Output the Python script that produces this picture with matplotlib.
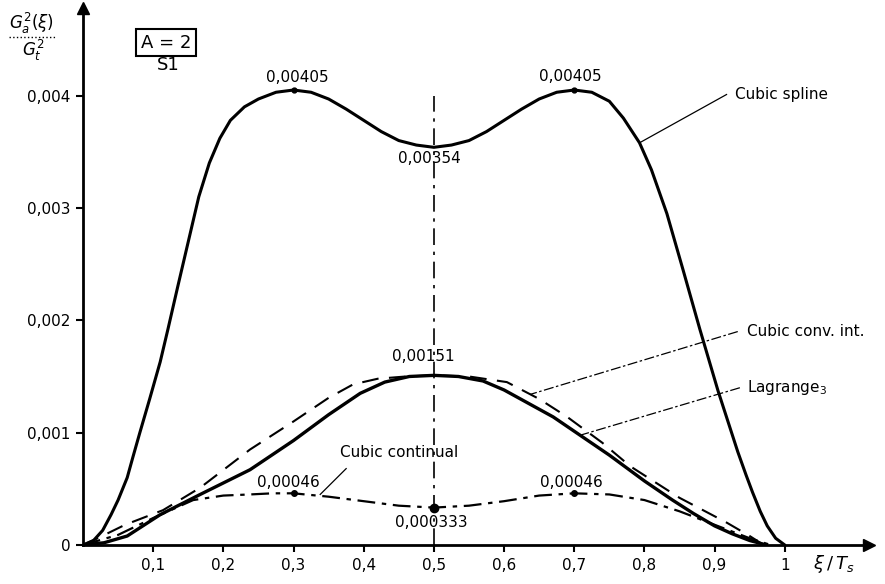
import matplotlib
matplotlib.use("Agg")
import matplotlib.pyplot as plt
from matplotlib.lines import Line2D

plt.rcParams['font.family'] = ['DejaVu Sans']
plt.rcParams['mathtext.fontset'] = 'dejavusans'

# ---- data -------------------------------------------------------------
spline_x = [0, 0.015, 0.028, 0.04, 0.05, 0.063, 0.071, 0.081, 0.095, 0.11,
            0.121, 0.135, 0.15, 0.165, 0.18, 0.195, 0.21, 0.23, 0.25, 0.275,
            0.30, 0.325, 0.35, 0.375, 0.40, 0.425, 0.45, 0.475, 0.50, 0.525,
            0.55, 0.575, 0.60, 0.625, 0.65, 0.675, 0.70, 0.725, 0.75, 0.77,
            0.793, 0.81, 0.832, 0.855, 0.879, 0.905, 0.933, 0.945, 0.954,
            0.965, 0.975, 0.987, 1.0]
spline_y = [0, 0.00004, 0.00013, 0.00027, 0.0004, 0.0006, 0.00078, 0.001,
            0.0013, 0.00163, 0.00192, 0.0023, 0.0027, 0.0031, 0.0034, 0.00362,
            0.00378, 0.0039, 0.00397, 0.00403, 0.00405, 0.00403, 0.00397,
            0.00388, 0.00378, 0.00368, 0.0036, 0.00356, 0.00354, 0.00356,
            0.0036, 0.00368, 0.00378, 0.00388, 0.00397, 0.00403, 0.00405,
            0.00403, 0.00395, 0.0038, 0.00358, 0.00334, 0.00295, 0.00245,
            0.00192, 0.00137, 0.00083, 0.00062, 0.00047, 0.0003, 0.00017,
            0.00006, 0]

lagr_x = [0, 0.03, 0.063, 0.11, 0.167, 0.238, 0.30, 0.35, 0.395, 0.43,
          0.465, 0.50, 0.535, 0.57, 0.60, 0.635, 0.67, 0.71, 0.75, 0.80,
          0.84, 0.87, 0.90, 0.925, 0.95, 0.974]
lagr_y = [0, 0.00002, 0.00008, 0.00027, 0.00045, 0.00067, 0.00093, 0.00116,
          0.00135, 0.00145, 0.0015, 0.00151, 0.0015, 0.00146, 0.00138,
          0.00126, 0.00114, 0.00097, 0.0008, 0.00057, 0.0004, 0.00028,
          0.00017, 0.0001, 0.00004, 0]

conv_x = [0, 0.024, 0.06, 0.114, 0.167, 0.238, 0.30, 0.35, 0.385, 0.42,
          0.46, 0.50, 0.55, 0.604, 0.65, 0.69, 0.74, 0.78, 0.85, 0.917,
          0.95, 0.97]
conv_y = [0, 0.00007, 0.00018, 0.00031, 0.00051, 0.00085, 0.0011, 0.00131,
          0.00143, 0.00148, 0.0015, 0.00151, 0.0015, 0.00145, 0.0013,
          0.00114, 0.00091, 0.0007, 0.00042, 0.0002, 0.00008, 0]

cont_x = [0, 0.05, 0.1, 0.157, 0.2, 0.238, 0.27, 0.3, 0.35, 0.4, 0.45,
          0.5, 0.55, 0.6, 0.65, 0.7, 0.75, 0.8, 0.85, 0.9, 0.95, 0.98]
cont_y = [0, 0.00009, 0.00024, 0.0004, 0.00044, 0.00045, 0.00046, 0.00046,
          0.00043, 0.00039, 0.00035, 0.000333, 0.00035, 0.00039, 0.00044,
          0.00046, 0.00045, 0.0004, 0.0003, 0.00018, 0.00006, 0]

x_ticks = [0.1, 0.2, 0.3, 0.4, 0.5, 0.6, 0.7, 0.8, 0.9, 1.0]
x_labels = ["0,1", "0,2", "0,3", "0,4", "0,5", "0,6", "0,7", "0,8", "0,9", "1"]
y_ticks = [0, 0.001, 0.002, 0.003, 0.004]
y_labels = ["0", "0,001", "0,002", "0,003", "0,004"]

# ---- figure -----------------------------------------------------------
fig = plt.figure(figsize=(8.85, 5.84), dpi=100)
ax = fig.add_axes([83 / 885, 39 / 584, 786 / 885, 537 / 584])
ax.set_xlim(0, 1.12)
ax.set_ylim(0, 0.00478)

for s in ("top", "right"):
    ax.spines[s].set_visible(False)
for s in ("left", "bottom"):
    ax.spines[s].set_linewidth(2.0)
ax.plot(1, 0, marker=">", ms=8, color="k", transform=ax.transAxes, clip_on=False)
ax.plot(0, 1, marker="^", ms=8, color="k", transform=ax.transAxes, clip_on=False)

ax.set_xticks(x_ticks)
ax.set_xticklabels(x_labels, fontsize=11)
ax.set_yticks(y_ticks)
ax.set_yticklabels(y_labels, fontsize=11)
ax.tick_params(axis="both", direction="out", length=5, width=1.5, pad=4)

# curves
ax.plot(spline_x, spline_y, color="k", lw=2.2, solid_capstyle="round",
        solid_joinstyle="round")
ax.plot(lagr_x, lagr_y, color="k", lw=2.4, solid_capstyle="round",
        solid_joinstyle="round")
ax.plot(conv_x, conv_y, color="k", lw=1.5, dashes=(8, 5))
ax.plot(cont_x, cont_y, color="k", lw=1.6, dashes=(8, 3, 2, 3))

# centre line at 0.5
ax.plot([0.5, 0.5], [0, 0.004], color="k", lw=1.2, dashes=(10, 4, 2, 4))

# marked points
ax.plot([0.3, 0.7], [0.00405, 0.00405], "o", color="k", ms=3.5)
ax.plot([0.3, 0.7], [0.00046, 0.00046], "o", color="k", ms=4)
ax.plot([0.5], [0.000333], "o", color="k", ms=6)

# value labels
fs = 11
ax.text(0.306, 0.00416, "0,00405", ha="center", va="center", fontsize=fs)
ax.text(0.694, 0.00417, "0,00405", ha="center", va="center", fontsize=fs)
ax.text(0.494, 0.00344, "0,00354", ha="center", va="center", fontsize=fs)
ax.text(0.485, 0.00168, "0,00151", ha="center", va="center", fontsize=fs)
ax.text(0.292, 0.00056, "0,00046", ha="center", va="center", fontsize=fs)
ax.text(0.696, 0.00056, "0,00046", ha="center", va="center", fontsize=fs)
ax.text(0.497, 0.0002, "0,000333", ha="center", va="center", fontsize=fs)

# curve names with leader lines
ax.text(0.929, 0.00401, "Cubic spline", ha="left", va="center", fontsize=fs)
ax.plot([0.917, 0.793], [0.00401, 0.00358], color="k", lw=0.9)

ax.text(0.946, 0.0019, "Cubic conv. int.", ha="left", va="center", fontsize=fs)
ax.plot([0.933, 0.637], [0.0019, 0.00134], color="k", lw=0.9, dashes=(8, 2, 2, 2))

ax.text(0.946, 0.0014, "Lagrange$_3$", ha="left", va="center", fontsize=fs)
ax.plot([0.936, 0.71], [0.0014, 0.00098], color="k", lw=0.9, dashes=(8, 2, 2, 2))

ax.text(0.45, 0.00082, "Cubic continual", ha="center", va="center", fontsize=fs)
ax.plot([0.375, 0.338], [0.00068, 0.00045], color="k", lw=0.9)

# parameter box
ax.text(0.118, 0.00447, "A = 2", ha="center", va="center", fontsize=13,
        bbox=dict(boxstyle="square,pad=0.25", fc="white", ec="k", lw=1.5))
ax.text(0.121, 0.00427, "S1", ha="center", va="center", fontsize=13)

# axis titles
ax.text(1.07, -0.00017, r"$\xi\,/\,T_s$", ha="center", va="center", fontsize=13,
        clip_on=False)
fig.text(31 / 885, 1 - 29 / 584, r"$G_a^2(\xi)$", ha="center", va="baseline",
         fontsize=12)
fig.add_artist(Line2D([9 / 885, 55 / 885], [1 - 37 / 584, 1 - 37 / 584],
                      color="k", lw=1, ls=":"))
fig.text(33 / 885, 1 - 50 / 584, r"$G_t^2$", ha="center", va="center", fontsize=12)

fig.savefig("out.png", dpi=100, facecolor="white")
